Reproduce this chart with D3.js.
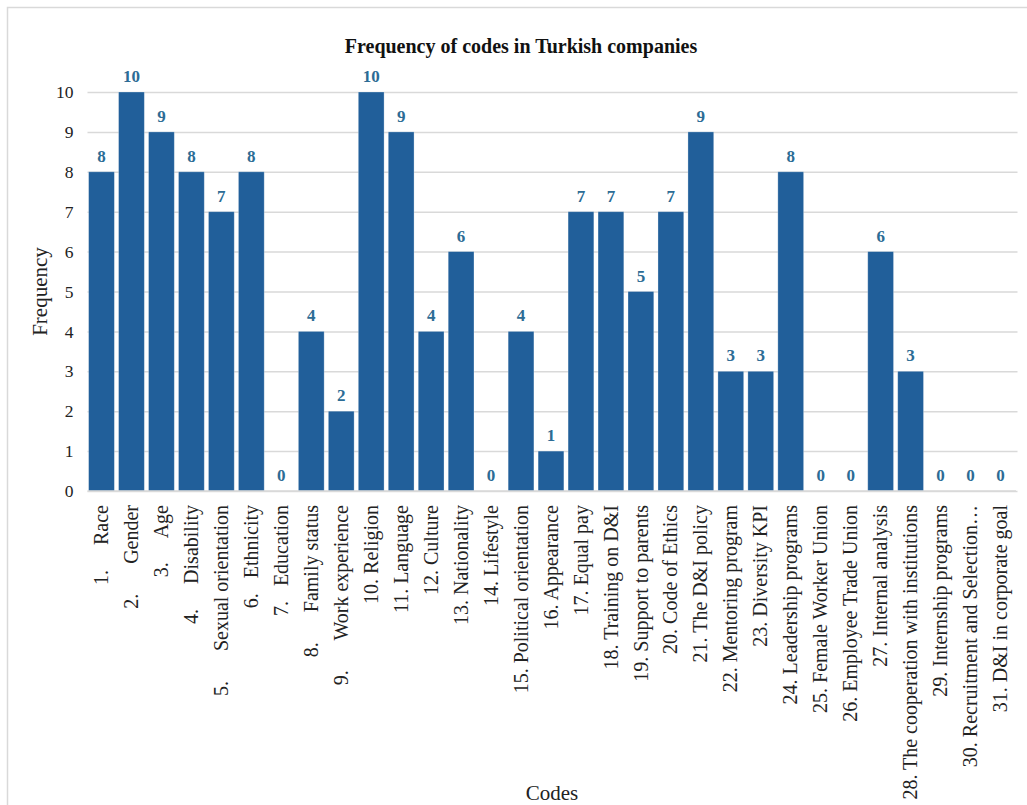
<!DOCTYPE html>
<html>
<head>
<meta charset="utf-8">
<script src="https://cdn.jsdelivr.net/npm/d3@7"></script>
<style>
  html, body { margin: 0; padding: 0; background: #fff; overflow: hidden; }
  svg { display: block; }
  svg text { font-family: "Liberation Serif", "Times New Roman", serif; }
</style>
</head>
<body>
<svg id="chart" width="1027" height="805"></svg>
<script>
// Code labels (numbered list items, as typed in the source table)
const codes = [
  "1.     Race",
  "2.      Gender",
  "3.     Age",
  "4.     Disability",
  "5.      Sexual orientation",
  "6.   Ethnicity",
  "7.   Education",
  "8.      Family status",
  "9.      Work experience",
  "10. Religion",
  "11. Language",
  "12. Culture",
  "13. Nationality",
  "14. Lifestyle",
  "15. Political orientation",
  "16. Appearance",
  "17. Equal pay",
  "18. Training on D&I",
  "19. Support to parents",
  "20. Code of Ethics",
  "21. The D&I policy",
  "22. Mentoring program",
  "23. Diversity KPI",
  "24. Leadership programs",
  "25. Female Worker Union",
  "26. Employee Trade Union",
  "27. Internal analysis",
  "28. The cooperation with institutions",
  "29. Internship programs",
  "30. Recruitment and Selection\u2026",
  "31. D&I in corporate goal"
];

// Number of companies mentioning each code
const frequency = [8, 10, 9, 8, 7, 8, 0, 4, 2, 10, 9, 4, 6, 0, 4, 1, 7, 7, 5, 7, 9, 3, 3, 8, 0, 0, 6, 3, 0, 0, 0];

const yTicks = [0, 1, 2, 3, 4, 5, 6, 7, 8, 9, 10];

const titleText = "Frequency of codes in Turkish companies";
const yTitle = "Frequency";
const xTitle = "Codes";

const serif = "'Liberation Serif', 'Times New Roman', serif";
const svg = d3.select("#chart");

// chart frame
svg.append("rect")
  .attr("x", 7.5).attr("y", 7.5)
  .attr("width", 1040).attr("height", 820)
  .attr("fill", "#fff")
  .attr("stroke", "#d9d9d9")
  .attr("stroke-width", 1.5);

const plot = { left: 86.5, right: 1015.5, top: 92, bottom: 491 };

const x = d3.scaleBand()
  .domain(codes)
  .range([plot.left, plot.right])
  .paddingInner(0.14)
  .paddingOuter(0.07);

const y = d3.scaleLinear()
  .domain([0, 10])
  .range([plot.bottom, plot.top]);

// horizontal gridlines and value ticks
const yAxis = d3.axisLeft(y)
  .tickValues(yTicks)
  .tickSize(-(plot.right - plot.left + 1))
  .tickPadding(14)
  .tickFormat(d3.format("d"));

const gy = svg.append("g")
  .attr("transform", `translate(${plot.left + 1},0)`)
  .call(yAxis);
gy.attr("font-family", null).attr("font-size", null);
gy.select(".domain").remove();
gy.selectAll(".tick line")
  .attr("stroke", "#d9d9d9")
  .attr("stroke-width", 1.5);
gy.selectAll(".tick text")
  .attr("fill", "#222")
  .style("font-size", "17.5px")
  .style("font-family", serif);

// bars
svg.append("g")
  .selectAll("rect")
  .data(frequency)
  .join("rect")
  .attr("x", (d, i) => x(codes[i]))
  .attr("width", x.bandwidth())
  .attr("y", d => y(d))
  .attr("height", d => y(0) - y(d))
  .attr("fill", "#215f9a")
  .attr("stroke", "#ffffff")
  .attr("stroke-opacity", 0.35)
  .attr("stroke-width", 0.8);

// value labels
svg.append("g")
  .selectAll("text")
  .data(frequency)
  .join("text")
  .attr("x", (d, i) => x(codes[i]) + x.bandwidth() / 2)
  .attr("y", d => y(d) - 10)
  .attr("text-anchor", "middle")
  .attr("fill", "#2c6c95")
  .style("font-family", serif)
  .style("font-weight", "bold")
  .style("font-size", "17px")
  .text(d => d);

// x axis baseline
svg.append("line")
  .attr("x1", plot.left + 1).attr("x2", plot.right + 0.5)
  .attr("y1", y(0)).attr("y2", y(0))
  .attr("stroke", "#d9d9d9")
  .attr("stroke-width", 1.5);

// rotated category labels
const xAxis = d3.axisBottom(x).tickSize(0).tickPadding(0);
const gx = svg.append("g")
  .attr("transform", `translate(0,${plot.bottom})`)
  .call(xAxis);
gx.attr("font-family", null).attr("font-size", null);
gx.select(".domain").remove();
gx.selectAll(".tick text")
  .attr("transform", "rotate(-90)")
  .attr("x", -14)
  .attr("y", 0)
  .attr("dy", "0.33em")
  .attr("text-anchor", "end")
  .attr("fill", "#222")
  .attr("xml:space", "preserve")
  .style("white-space", "pre")
  .style("font-size", "20px")
  .style("font-family", serif);

// title
svg.append("text")
  .attr("x", 521).attr("y", 53)
  .attr("text-anchor", "middle")
  .attr("fill", "#111")
  .style("font-family", serif)
  .style("font-weight", "bold")
  .style("font-size", "20px")
  .text(titleText);

// axis titles
svg.append("text")
  .attr("transform", `translate(47,${(plot.top + plot.bottom) / 2}) rotate(-90)`)
  .attr("text-anchor", "middle")
  .attr("fill", "#222")
  .style("font-family", serif)
  .style("font-size", "21px")
  .text(yTitle);

svg.append("text")
  .attr("x", 552).attr("y", 800)
  .attr("text-anchor", "middle")
  .attr("fill", "#222")
  .style("font-family", serif)
  .style("font-size", "21px")
  .text(xTitle);
</script>
</body>
</html>
